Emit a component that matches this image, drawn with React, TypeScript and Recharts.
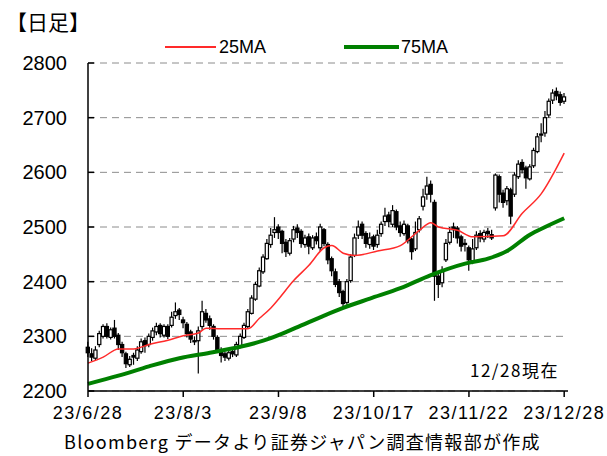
import { Bar, CartesianGrid, ComposedChart, Line, XAxis, YAxis } from "recharts";

// trading-day index 0..125 (23/6/28 .. 23/12/28)
const tickIdx = [0, 25, 50, 75, 100, 125];
const tickLabels = ["23/6/28", "23/8/3", "23/9/8", "23/10/17", "23/11/22", "23/12/28"];
const yTicks = [2200, 2300, 2400, 2500, 2600, 2700, 2800];

const open = [
  2280, 2268, 2260, 2285, 2300, 2318, 2298, 2315, 2302, 2285, 2268, 2248, 2265, 2260, 2272, 2292,
  2285, 2298, 2308, 2320, 2302, 2318, 2320, 2338, 2348, 2330, 2322, 2308, 2292, 2292, 2318, 2342,
  2332, 2318, 2298, 2272, 2268, 2260, 2272, 2266, 2282, 2298, 2318, 2342, 2368, 2392, 2418, 2442,
  2468, 2490, 2500, 2492, 2472, 2452, 2478, 2498, 2492, 2468, 2482, 2462, 2482, 2462, 2495, 2468,
  2442, 2418, 2400, 2382, 2362, 2402, 2448, 2485, 2505, 2488, 2468, 2482, 2468, 2488, 2510, 2522,
  2505, 2528, 2502, 2488, 2502, 2478, 2460, 2495, 2538, 2560, 2578, 2545, 2410, 2398, 2440, 2472,
  2500, 2498, 2482, 2468, 2462, 2438, 2462, 2488, 2478, 2492, 2486, 2535, 2592, 2562, 2548, 2568,
  2560, 2592, 2618, 2608, 2588, 2612, 2638, 2668, 2672, 2705, 2732, 2748, 2742, 2730,
];
const high = [
  2290, 2278, 2282, 2310, 2322, 2324, 2316, 2330, 2306, 2290, 2272, 2264, 2270, 2282, 2296, 2298,
  2305, 2316, 2325, 2324, 2322, 2322, 2345, 2362, 2352, 2336, 2326, 2312, 2300, 2318, 2365, 2350,
  2338, 2322, 2302, 2280, 2272, 2276, 2280, 2290, 2305, 2325, 2350, 2375, 2400, 2426, 2450, 2478,
  2498, 2518, 2505, 2495, 2478, 2480, 2502, 2505, 2496, 2486, 2488, 2485, 2490, 2506, 2498, 2472,
  2446, 2424, 2405, 2385, 2405, 2450, 2488, 2512, 2510, 2492, 2490, 2486, 2495, 2510, 2535, 2528,
  2540, 2532, 2510, 2512, 2506, 2480, 2510, 2520, 2570, 2592, 2585, 2550, 2420, 2428, 2478, 2500,
  2508, 2502, 2486, 2478, 2466, 2478, 2492, 2494, 2495, 2498, 2495, 2598, 2596, 2568, 2575, 2572,
  2600, 2622, 2624, 2612, 2615, 2645, 2672, 2690, 2712, 2735, 2752, 2755, 2748, 2745,
];
const low = [
  2262, 2255, 2256, 2280, 2296, 2296, 2294, 2296, 2275, 2262, 2242, 2244, 2248, 2255, 2268, 2270,
  2280, 2292, 2302, 2298, 2298, 2295, 2316, 2332, 2330, 2315, 2298, 2288, 2284, 2232, 2312, 2325,
  2312, 2294, 2270, 2252, 2255, 2256, 2262, 2262, 2278, 2295, 2315, 2340, 2365, 2390, 2414, 2440,
  2462, 2480, 2478, 2452, 2445, 2448, 2472, 2480, 2462, 2462, 2450, 2458, 2468, 2455, 2465, 2432,
  2410, 2390, 2372, 2352, 2358, 2398, 2445, 2478, 2478, 2462, 2460, 2458, 2462, 2482, 2502, 2500,
  2500, 2494, 2482, 2484, 2470, 2440, 2456, 2490, 2530, 2550, 2545, 2365, 2370, 2390, 2436, 2468,
  2480, 2470, 2455, 2455, 2420, 2432, 2458, 2472, 2472, 2480, 2476, 2530, 2545, 2535, 2540, 2505,
  2555, 2588, 2598, 2570, 2585, 2608, 2635, 2655, 2665, 2700, 2725, 2732, 2722, 2725,
];
const close = [
  2270, 2262, 2275, 2305, 2318, 2300, 2312, 2300, 2285, 2270, 2250, 2258, 2262, 2275, 2290, 2283,
  2300, 2310, 2318, 2305, 2318, 2300, 2335, 2345, 2340, 2325, 2305, 2295, 2290, 2310, 2345, 2330,
  2320, 2300, 2275, 2265, 2262, 2270, 2268, 2285, 2300, 2320, 2345, 2370, 2395, 2420, 2445, 2470,
  2485, 2495, 2490, 2470, 2455, 2475, 2495, 2490, 2470, 2480, 2465, 2480, 2475, 2500, 2470, 2440,
  2420, 2395, 2380, 2360, 2400, 2445, 2480, 2500, 2485, 2470, 2480, 2465, 2485, 2505, 2520, 2510,
  2530, 2500, 2490, 2505, 2475, 2455, 2490, 2515, 2555, 2575, 2560, 2410, 2395, 2420, 2470, 2490,
  2495, 2480, 2465, 2470, 2440, 2460, 2485, 2480, 2490, 2488, 2480, 2595, 2560, 2545, 2570, 2520,
  2595, 2615, 2605, 2590, 2610, 2640, 2665, 2670, 2700, 2730, 2745, 2740, 2728, 2738,
];

// moving averages: [day index, value]
const ma25 = [
  [0, 2251], [4, 2262], [8, 2277], [12, 2277], [16, 2285], [21, 2293], [25, 2301], [29, 2306],
  [31, 2315], [35, 2314], [42, 2314], [45, 2333], [48, 2352], [50, 2368], [54, 2402], [58, 2430],
  [62, 2462], [64, 2466], [67, 2452], [70, 2448], [76, 2456], [82, 2466], [87, 2494], [90, 2508],
  [92, 2500], [97, 2494], [101, 2482], [109, 2484], [114, 2525], [119, 2561], [125, 2635],
];
const ma75 = [
  [0, 2213], [8, 2228], [16, 2245], [24, 2260], [32, 2270], [40, 2281], [46, 2292], [51, 2305],
  [56, 2320], [62, 2338], [67, 2352], [74, 2369], [82, 2388], [90, 2412], [99, 2433], [105, 2442],
  [110, 2456], [116, 2486], [120, 2500], [125, 2516],
];

const m25 = new Map(ma25.map(([i, v]) => [i, v]));
const m75 = new Map(ma75.map(([i, v]) => [i, v]));

const rows = close.map((c, i) => ({
  i,
  open: open[i],
  high: high[i],
  low: low[i],
  close: c,
  range: [low[i], high[i]],
  ma25: m25.has(i) ? m25.get(i) : null,
  ma75: m75.has(i) ? m75.get(i) : null,
}));

const Candle = (props: any) => {
  const { x, y, width, height, payload } = props;
  if (!payload || height == null) return null;
  const { open: o, close: c, high: h, low: l } = payload;
  const k = h === l ? 0 : height / (h - l);
  const yOf = (v: number) => y + (h - v) * k;
  const cx = x + width / 2;
  const top = yOf(Math.max(o, c));
  const bot = yOf(Math.min(o, c));
  return (
    <g>
      <line x1={cx} x2={cx} y1={y} y2={y + height} stroke="#000" strokeWidth={1.2} />
      <rect
        x={cx - 1.6}
        y={top}
        width={3.2}
        height={Math.max(bot - top, 1)}
        fill={c >= o ? "#fff" : "#000"}
        stroke="#000"
        strokeWidth={1.2}
      />
    </g>
  );
};

const jp = "'Noto Sans CJK JP', 'Noto Sans', sans-serif";
const num = "'Liberation Sans', Arial, sans-serif";

// y label plus a short inward tick on the axis
const YTick = (props: any) => {
  const { x, y, payload } = props;
  return (
    <g>
      <line x1={x + 21} x2={x + 27} y1={y} y2={y} stroke="#000" strokeWidth={1.5} />
      <text x={x} y={y} dy={7} textAnchor="end" fontSize={20} fontFamily={num} fill="#000">
        {payload.value}
      </text>
    </g>
  );
};

export default function App() {
  return (
    <div style={{ position: "absolute", left: 0, top: 0, width: 607, height: 456, background: "#fff" }}>
      <div style={{ position: "absolute", left: 6, top: 8, fontFamily: jp, fontSize: 21, lineHeight: "26px", color: "#000" }}>
        【日足】
      </div>
      <svg style={{ position: "absolute", left: 0, top: 0 }} width={607} height={70}>
        <line x1={165} x2={216} y1={47} y2={47} stroke="#ff2a2a" strokeWidth={2} />
        <text x={219} y={53} fontFamily={num} fontSize={18} fill="#000">25MA</text>
        <line x1={344} x2={399} y1={47} y2={47} stroke="#008000" strokeWidth={4} />
        <text x={401} y={53} fontFamily={num} fontSize={18} fill="#000">75MA</text>
      </svg>
      <div style={{ position: "absolute", left: 0, top: 53 }}>
        <ComposedChart
          width={607}
          height={380}
          data={rows}
          margin={{ top: 10, right: 39, bottom: 12, left: 0 }}
        >
          <CartesianGrid vertical={false} stroke="#8c8c8c" strokeDasharray="7 5" />
          <XAxis
            dataKey="i"
            type="number"
            domain={[0, 126]}
            ticks={tickIdx}
            tickFormatter={(v: number) => tickLabels[tickIdx.indexOf(v)]}
            axisLine={{ stroke: "#000", strokeWidth: 1.5 }}
            tickLine={{ stroke: "#000", strokeWidth: 1.5 }}
            tickSize={6}
            tickMargin={9}
            height={30}
            interval={0}
            tick={{ fill: "#000", fontSize: 18, fontFamily: num, letterSpacing: 1.5 }}
          />
          <YAxis
            type="number"
            domain={[2200, 2800]}
            ticks={yTicks}
            width={88}
            axisLine={{ stroke: "#000", strokeWidth: 1.5 }}
            tickLine={false}
            tickSize={6}
            tickMargin={15}
            tick={<YTick />}
          />
          <Bar dataKey="range" barSize={4} shape={Candle} isAnimationActive={false} />
          <Line
            dataKey="ma25"
            type="monotone"
            stroke="#ff2a2a"
            strokeWidth={1.5}
            dot={false}
            connectNulls
            isAnimationActive={false}
          />
          <Line
            dataKey="ma75"
            type="monotone"
            stroke="#008000"
            strokeWidth={4}
            dot={false}
            connectNulls
            isAnimationActive={false}
          />
        </ComposedChart>
      </div>
      <div style={{ position: "absolute", left: 470, top: 359, fontFamily: jp, fontSize: 17, lineHeight: "22px", color: "#000", letterSpacing: 1.5 }}>
        12/28現在
      </div>
      <div style={{ position: "absolute", left: 64, top: 430, fontFamily: jp, fontSize: 18, lineHeight: "22px", color: "#000", letterSpacing: 1.3 }}>
        Bloomberg データより証券ジャパン調査情報部が作成
      </div>
    </div>
  );
}
